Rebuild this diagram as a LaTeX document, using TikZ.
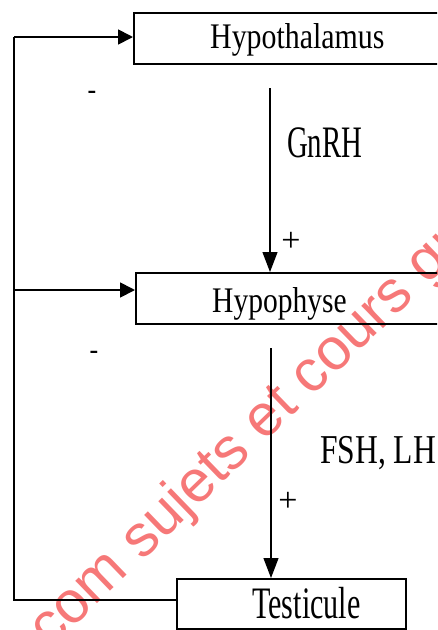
\documentclass[tikz,border=0pt]{standalone}
\usepackage{fontspec}
\setmainfont{Liberation Serif}
\newfontfamily\wmfont{Liberation Sans}
\usetikzlibrary{arrows.meta}
\definecolor{wmred}{RGB}{246,120,120}
\begin{document}
\begin{tikzpicture}[x=1pt,y=-1pt,
  box/.style={draw, line width=1.7pt, anchor=north west, inner sep=0pt},
  lbl/.style={anchor=base west, inner sep=0pt},
  conn/.style={line width=1.8pt},
  sig/.style={line width=1.2pt, -{Triangle[length=20pt,width=15pt]}},
  fb/.style={line width=1.8pt, -{Triangle[length=15pt,width=15pt]}},
  sign/.style={inner sep=0pt}]
\useasboundingbox (0,0) rectangle (437,630);
\clip (0,0) rectangle (437,630);
% watermark
\node[anchor=base west, rotate=44, text=wmred, font=\wmfont\fontsize{59}{64}\selectfont, inner sep=0pt] (wm) at (50,650) {com sujets et cours gr};
% boxes
\node[box, minimum width=330pt, minimum height=51pt] (hyt) at (133,12) {};
\node[box, minimum width=330pt, minimum height=51pt] (hyp) at (135,272) {};
\node[box, minimum width=229pt, minimum height=50pt] (tes) at (176,578) {};
% labels
\node[lbl, font=\fontsize{36}{40}\selectfont] (thyt) at (210,48) {\scalebox{0.83}[1]{Hypothalamus}};
\node[lbl, font=\fontsize{36}{40}\selectfont] (thyp) at (212,312) {\scalebox{0.82}[1]{Hypophyse}};
\node[lbl, font=\fontsize{45}{50}\selectfont] (ttes) at (252,618) {\scalebox{0.67}[1]{Testicule}};
\node[lbl, font=\fontsize{45}{50}\selectfont] (tgn) at (287,157) {\scalebox{0.64}[1]{GnRH}};
\node[lbl, font=\fontsize{41}{46}\selectfont] (tfsh) at (320,463) {\scalebox{0.77}[1]{FSH, LH}};
% signs
\node[sign, font=\fontsize{34}{36}\selectfont] (p1) at (291,242) {+};
\node[sign, font=\fontsize{34}{36}\selectfont] (p2) at (288,502) {+};
\node[sign, font=\bfseries\fontsize{26}{28}\selectfont] (m1) at (92,95) {-};
\node[sign, font=\bfseries\fontsize{26}{28}\selectfont] (m2) at (94,355) {-};
% stimulation arrows
\coordinate (a1) at (270,88);
\coordinate (a2) at (271,348);
\draw[sig] (a1) -- (a1 |- hyp.north);
\draw[sig] (a2) -- (a2 |- tes.north);
% feedback loop
\coordinate (fbt) at (14,37);
\coordinate (fbm) at (14,290);
\coordinate (fbb) at (14,600);
\draw[conn] (fbb -| tes.west) -- (fbb) -- (fbt);
\draw[fb] (fbt) -- (fbt -| hyt.west);
\draw[fb] (fbm) -- (fbm -| hyp.west);
\end{tikzpicture}
\end{document}
